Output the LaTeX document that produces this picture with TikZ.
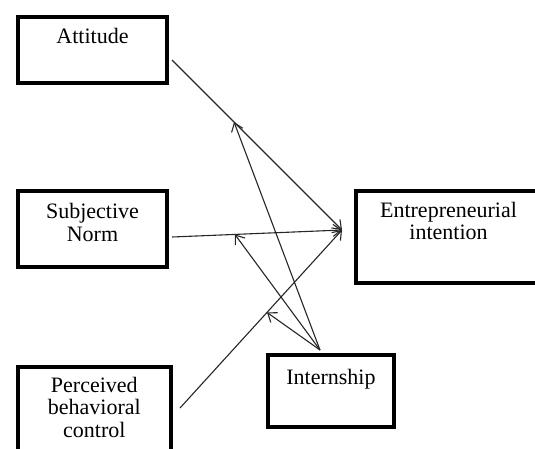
\documentclass[tikz,border=0pt]{standalone}
\usepackage{fontspec}
\setmainfont{Liberation Serif}
\usetikzlibrary{arrows.meta}

\begin{document}
\begin{tikzpicture}[
    x=1pt, y=-1pt,
    factor/.style={
      draw,
      line width=4pt,
      inner sep=0pt,
      align=center,
      font=\fontsize{22}{22.5}\selectfont
    },
    link/.style={
      line width=1.1pt,
      black!85,
      -{Straight Barb[length=8pt,width=12pt]}
    }
  ]
  \useasboundingbox (0,0) rectangle (535,448);

  % attitude {{{
  \node[
    factor,
    anchor=north west,
    text width=149pt,
    text height=27pt,
    text depth=39.6pt
  ] (att) at (16,14.7) {Attitude};
  % }}}

  % subjective norm {{{
  \node[
    factor,
    anchor=north west,
    text width=149pt,
    text height=27.2pt,
    text depth=48.2pt
  ] (sn) at (16,189.3) {Subjective\\Norm};
  % }}}

  % perceived behavioral control {{{
  \node[
    factor,
    anchor=north west,
    text width=152.7pt,
    text height=25.3pt,
    text depth=90pt
  ] (pbc) at (16,364.7) {Perceived\\behavioral\\control};
  % }}}

  % entrepreneurial intention {{{
  \node[
    factor,
    anchor=north west,
    minimum width=240pt,
    minimum height=92.6pt
  ] (ent) at (353.7,188.7) {};
  \node[
    factor,
    draw=none,
    anchor=north west,
    text width=185.6pt,
    text height=26.3pt,
    text depth=0pt
  ] (entname) at (ent.north west) {Entrepreneurial\\intention};
  % }}}

  % internship {{{
  \node[
    factor,
    anchor=north west,
    text width=126pt,
    text height=30pt,
    text depth=42.6pt
  ] (int) at (266,352.7) {Internship};
  % }}}

  \coordinate (att-out) at (172,60);
  \coordinate (sn-out) at (172,237);
  \coordinate (pbc-out) at (180,408);
  \coordinate (ent-in) at (342,230);
  \coordinate (int-out) at (320,350);

  % direct paths
  \draw[link] (att-out) -- coordinate[pos=0.365] (att-hit) (ent-in);
  \draw[link] (sn-out) -- coordinate[pos=0.37] (sn-hit) (ent-in);
  \draw[link] (pbc-out) -- coordinate[pos=0.537] (pbc-hit) (ent-in);

  % moderating paths
  \draw[link] (int-out) -- (att-hit);
  \draw[link] (int-out) -- (sn-hit);
  \draw[link] (int-out) -- (pbc-hit);

\end{tikzpicture}
\end{document}
